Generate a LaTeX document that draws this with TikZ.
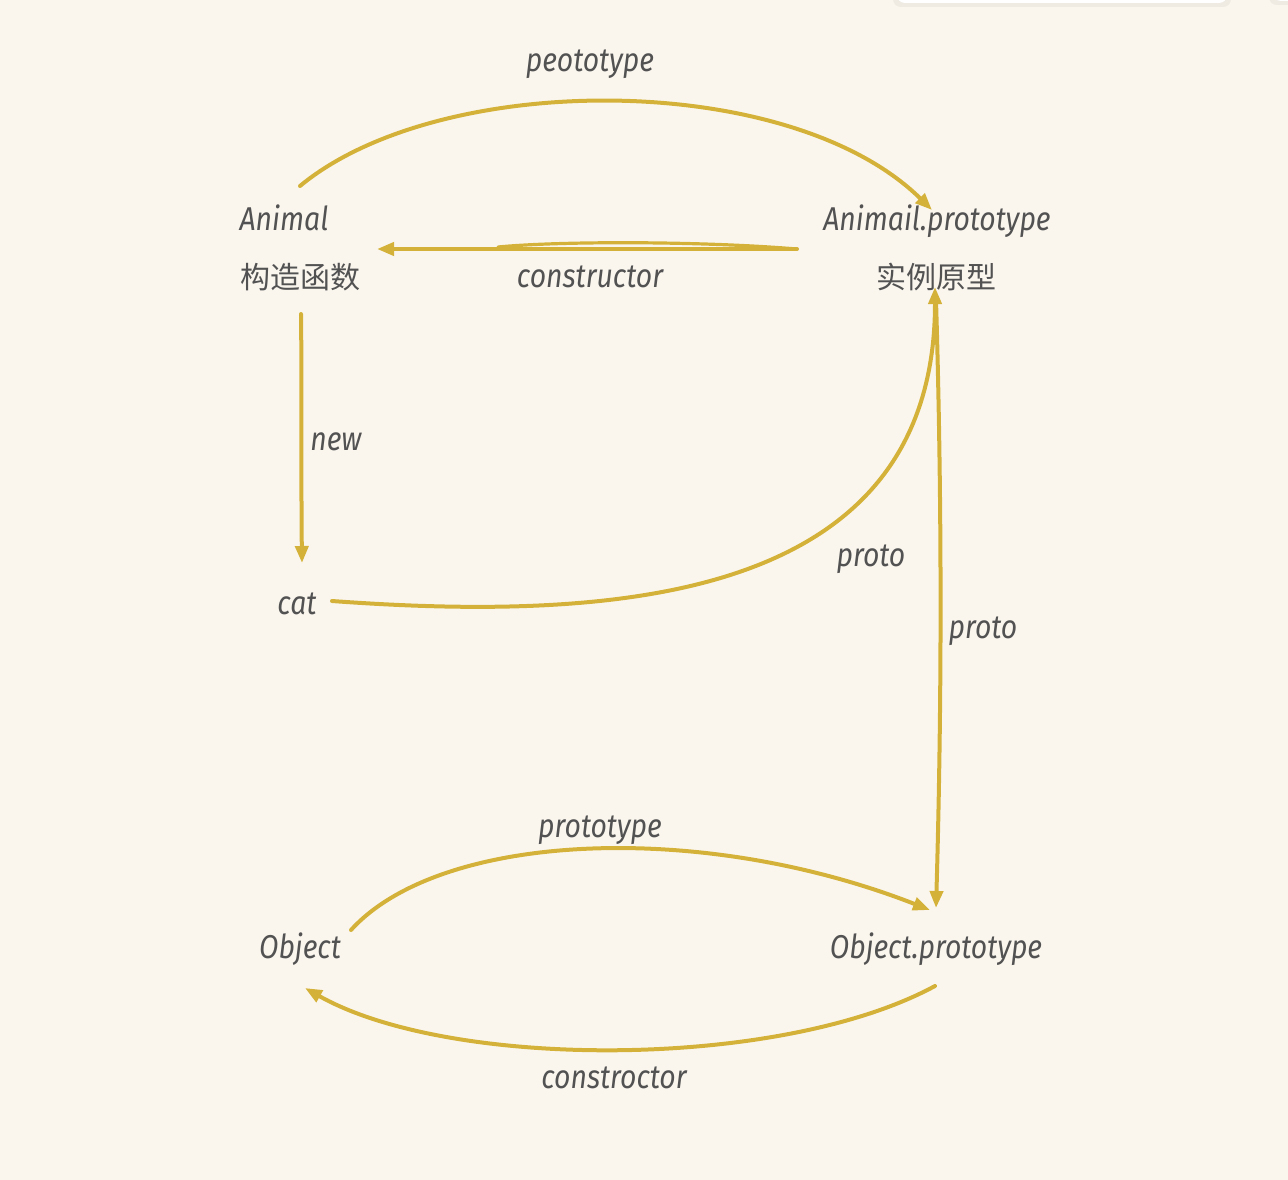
\documentclass[tikz,border=0pt]{standalone}
\usepackage{fontspec}
\usetikzlibrary{arrows.meta}
\newfontfamily\hand[FakeStretch=0.86]{Fira Sans}
\newfontfamily\cjk{Noto Sans CJK SC}
\definecolor{bgc}{HTML}{FAF6EE}
\definecolor{linec}{HTML}{D4B23A}
\definecolor{textc}{HTML}{525252}
\definecolor{shadowc}{HTML}{EFEBE2}
\tikzset{
  lbl/.style={anchor=base, inner sep=0pt, text=textc, font=\hand\itshape\fontsize{33}{36}\selectfont},
  cjklbl/.style={anchor=base, inner sep=0pt, text=textc, font=\cjk\fontsize{30}{33}\selectfont},
  conn/.style={draw=linec, line width=4pt, line cap=round, line join=round},
  arr/.style={conn, -{Triangle[length=17pt,width=13pt]}},
}
\begin{document}
\begin{tikzpicture}[x=1pt,y=-1pt]
\useasboundingbox (0,0) rectangle (1288,1180);
\fill[bgc] (0,0) rectangle (1288,1180);
% UI panels at top edge
\fill[shadowc, rounded corners=8pt] (893,-30) rectangle (1231,7);
\fill[white, rounded corners=8pt] (897,-30) rectangle (1227,3);
\fill[shadowc, rounded corners=8pt] (1269,-30) rectangle (1300,5);
\fill[white, rounded corners=8pt] (1273,-30) rectangle (1300,1);

% nodes
\node[lbl] (animal) at (284,230) {Animal};
\node[cjklbl] (ctor) at (300,288) {构造函数};
\node[lbl] (aproto) at (937,230) {Animail.prototype};
\node[cjklbl] (inst) at (936,288) {实例原型};
\node[lbl] (cat) at (297,614) {cat};
\node[lbl] (object) at (300,958) {Object};
\node[lbl] (oproto) at (936,958) {Object.prototype};

% connector end points
\coordinate (a1) at (300,186);
\coordinate (a2) at (932,210);
\coordinate (c1) at (797,249);
\coordinate (c2) at (377,249);
\coordinate (c3) at (498,247);
\coordinate (n1) at (301,314);
\coordinate (n2) at (302,563);
\coordinate (p1) at (332,601);
\coordinate (p2) at (935,287);
\coordinate (v1) at (936,300);
\coordinate (v2) at (936,908);
\coordinate (o1) at (351,930);
\coordinate (o2) at (930,910);
\coordinate (r1) at (935,986);
\coordinate (r2) at (305,988);

% connectors
\draw[arr] (a1) .. controls (440,70) and (790,70) .. (a2);
\node[lbl] (l1) at (590,72) {peototype};
\draw[arr] (c1) -- (c2);
\draw[conn, line width=3.2pt] (c1) .. controls (700,241) and (560,241) .. (c3);
\node[lbl] (l2) at (590,287) {constructor};
\draw[arr] (n1) .. controls (302,400) and (301,480) .. (n2);
\node[lbl] (l3) at (336,450) {new};
\draw[arr] (p1) .. controls (620,622) and (935,600) .. (p2);
\node[lbl] (l4) at (871,566) {proto};
\draw[arr] (v1) .. controls (942,500) and (942,700) .. (v2);
\node[lbl] (l5) at (983,638) {proto};
\draw[arr] (o1) .. controls (440,832) and (700,820) .. (o2);
\node[lbl] (l6) at (600,837) {prototype};
\draw[arr] (r1) .. controls (780,1070) and (450,1070) .. (r2);
\node[lbl] (l7) at (614,1088) {constroctor};
\end{tikzpicture}
\end{document}
